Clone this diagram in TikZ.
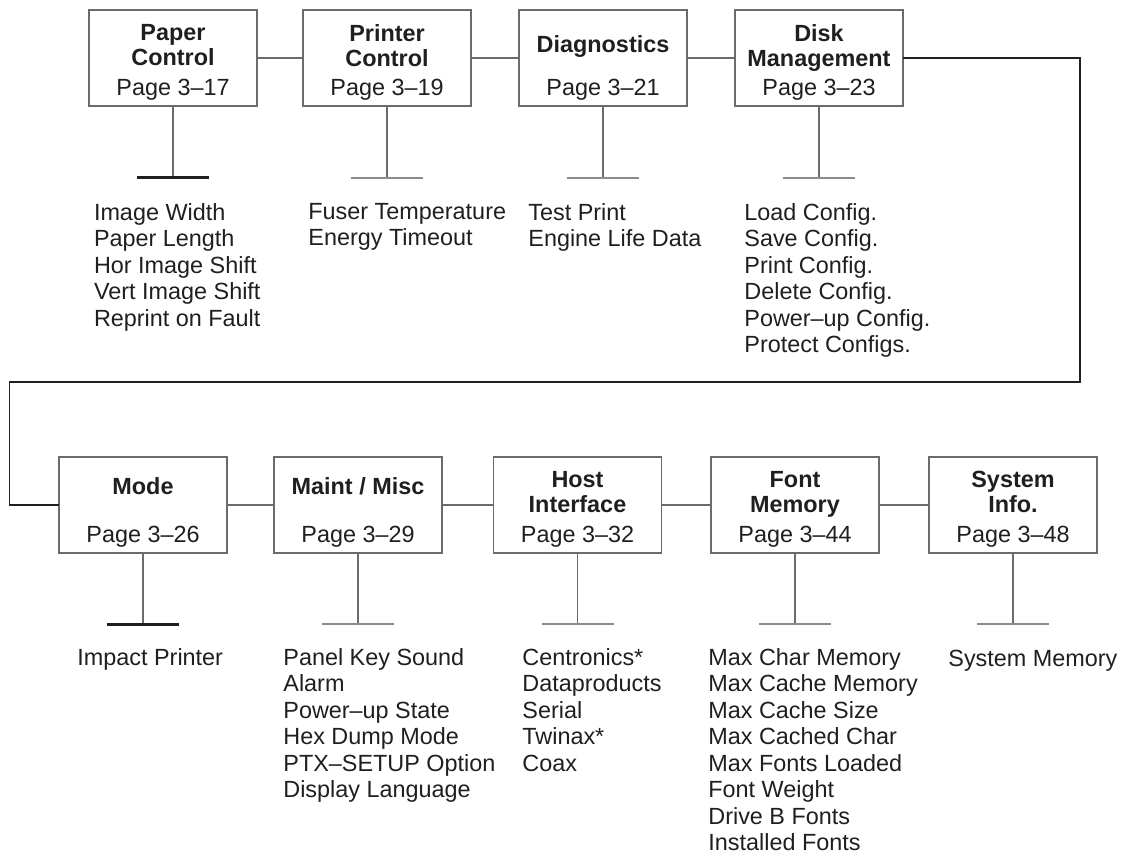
\documentclass[tikz,border=0pt]{standalone}
\usepackage{fontspec}
\setmainfont{Liberation Sans}
\definecolor{wiregray}{gray}{0.42}
\definecolor{bargray}{gray}{0.55}
\definecolor{inkblack}{gray}{0.12}
\tikzstyle{menu box}=[draw=wiregray,line width=0.6pt,minimum width=84pt,
    minimum height=48pt,inner sep=0pt,outer sep=0pt]
\tikzstyle{menu title}=[font=\fontsize{11.7}{12.5}\selectfont\bfseries,
    align=center,inner sep=0pt,anchor=north]
\tikzstyle{menu page}=[inner sep=0pt,anchor=base]
\tikzstyle{menu list}=[align=left,inner sep=0pt,anchor=north west]
\tikzstyle{link}=[draw=wiregray,line width=0.6pt]
\tikzstyle{long link}=[draw=inkblack,line width=0.6pt]
\tikzstyle{stem}=[draw=wiregray,line width=0.6pt]
\tikzstyle{stem bar}=[draw=bargray,line width=0.7pt]
\tikzstyle{stem bar heavy}=[draw=inkblack,line width=1.5pt]
\newcommand{\menubox}[5][7pt]{
    \node[menu box] at (#2) (#3) {};
    \node[menu title] at ([yshift=-#1]#3.north) (#3-title) {#4};
    \node[menu page] at ([yshift=5pt]#3.south) (#3-page) {Page #5};
}
\newcommand{\menustem}[3][stem bar]{
    \coordinate (#2-foot) at (#2.south |- 0,#3);
    \draw[stem] (#2.south) -- (#2-foot);
    \draw[#1] ([xshift=-18pt]#2-foot) -- ([xshift=18pt]#2-foot);
}

\begin{document}
\begin{tikzpicture}[x=0.5pt,y=-0.5pt,
    every node/.style={font=\fontsize{11.7}{13.25}\selectfont,text=inkblack}]
    \useasboundingbox (0,0) rectangle (1125,855);
    \menubox{173,58}{paper}{Paper\\Control}{3--17}
    \menubox{387,58}{printer}{Printer\\Control}{3--19}
    \menubox[12.5pt]{603,58}{diag}{Diagnostics}{3--21}
    \menubox{819,58}{disk}{Disk\\Management}{3--23}
    %
    \menubox[10pt]{143,505}{mode}{Mode}{3--26}
    \menubox[10pt]{358,505}{maint}{Maint / Misc}{3--29}
    \menubox{577.5,505}{host}{Host\\Interface}{3--32}
    \menubox{795,505}{font}{Font\\Memory}{3--44}
    \menubox{1013,505}{sysinfo}{System\\Info.}{3--48}
    %
    \draw[link] (paper.east) -- (printer.west);
    \draw[link] (printer.east) -- (diag.west);
    \draw[link] (diag.east) -- (disk.west);
    \draw[link] (mode.east) -- (maint.west);
    \draw[link] (maint.east) -- (host.west);
    \draw[link] (host.east) -- (font.west);
    \draw[link] (font.east) -- (sysinfo.west);
    %
    \coordinate (wrap-right) at (1080,382);
    \coordinate (wrap-left) at (9.6,382);
    \draw[long link] (disk.east) -| (wrap-right) -- (wrap-left) |- (mode.west);
    %
    \menustem[stem bar heavy]{paper}{178}
    \menustem{printer}{178}
    \menustem{diag}{178}
    \menustem{disk}{178}
    \menustem[stem bar heavy]{mode}{624}
    \menustem{maint}{624}
    \menustem{host}{624}
    \menustem{font}{624}
    \menustem{sysinfo}{624}
    %
    \node[menu list] at (93.6,203) (paper-list) {Image Width\\Paper Length\\
        Hor Image Shift\\Vert Image Shift\\Reprint on Fault};
    \node[menu list] at (308,203) (printer-list) {Fuser Temperature\\
        Energy Timeout};
    \node[menu list] at (528,203) (diag-list) {Test Print\\Engine Life Data};
    \node[menu list] at (744,203) (disk-list) {Load Config.\\Save Config.\\
        Print Config.\\Delete Config.\\Power--up Config.\\Protect Configs.};
    \node[menu list] at (77,648) (mode-list) {Impact Printer};
    \node[menu list] at (283,648) (maint-list) {Panel Key Sound\\Alarm\\
        Power--up State\\Hex Dump Mode\\PTX--SETUP Option\\Display Language};
    \node[menu list] at (522,648) (host-list) {Centronics*\\Dataproducts\\
        Serial\\Twinax*\\Coax};
    \node[menu list] at (708,648) (font-list) {Max Char Memory\\
        Max Cache Memory\\Max Cache Size\\Max Cached Char\\Max Fonts Loaded\\
        Font Weight\\Drive B Fonts\\Installed Fonts};
    \node[menu list] at (948,650) (sysinfo-list) {System Memory};
\end{tikzpicture}
\end{document}
